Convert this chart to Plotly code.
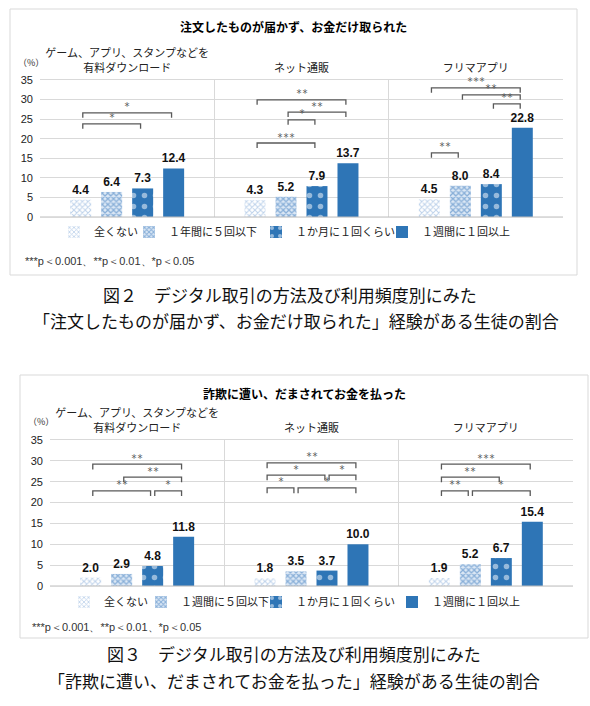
import plotly.graph_objects as go

# ---------------- data ----------------
categories = ["ゲーム、アプリ、スタンプなどを<br>有料ダウンロード", "ネット通販", "フリマアプリ"]

series_names_1 = ["全くない", "１年間に５回以下", "１か月に１回くらい", "１週間に１回以上"]
series_names_2 = ["全くない", "１週間に５回以下", "１か月に１回くらい", "１週間に１回以上"]

values_1_none = [4.4, 4.3, 4.5]
values_1_low = [6.4, 5.2, 8.0]
values_1_month = [7.3, 7.9, 8.4]
values_1_week = [12.4, 13.7, 22.8]

values_2_none = [2.0, 1.8, 1.9]
values_2_low = [2.9, 3.5, 5.2]
values_2_month = [4.8, 3.7, 6.7]
values_2_week = [11.8, 10.0, 15.4]

y_ticks = [0, 5, 10, 15, 20, 25, 30, 35]

# significance brackets: (category index, from series, to series, height in %, label)
brackets_1 = [
    (0, 0, 3, 26.6, "*"), (0, 0, 2, 23.8, "*"),
    (1, 0, 3, 29.9, "**"), (1, 1, 3, 26.8, "**"), (1, 1, 2, 24.8, "*"), (1, 0, 2, 18.9, "***"),
    (2, 0, 3, 33.0, "***"), (2, 1, 3, 31.2, "**"), (2, 2, 3, 28.9, "**"), (2, 0, 1, 16.4, "**"),
]
brackets_2 = [
    (0, 0, 3, 29.2, "**"), (0, 1, 3, 26.1, "**"), (0, 0, 2, 22.8, "**"), (0, 2, 3, 22.8, "*"),
    (1, 0, 3, 29.5, "**"), (1, 0, 2, 26.6, "*"), (1, 2, 3, 26.6, "*"), (1, 0, 1, 23.5, "*"), (1, 1, 3, 23.5, "*"),
    (2, 0, 3, 29.2, "***"), (2, 0, 2, 26.1, "**"), (2, 0, 1, 22.8, "**"), (2, 1, 3, 22.8, "*"),
]

title_1 = "注文したものが届かず、お金だけ取られた"
title_2 = "詐欺に遭い、だまされてお金を払った"
footnote = "***p＜0.001、**p＜0.01、*p＜0.05"
unit_label = "（%）"
caption_1 = ["図２　デジタル取引の方法及び利用頻度別にみた",
             "「注文したものが届かず、お金だけ取られた」経験がある生徒の割合"]
caption_2 = ["図３　デジタル取引の方法及び利用頻度別にみた",
             "「詐欺に遭い、だまされてお金を払った」経験がある生徒の割合"]

# ---------------- styling ----------------
W, H = 590, 706
BLUE = "#2E75B6"
GRID = "#D9D9D9"
BRACKET = "#595959"
JP = "Noto Sans CJK JP"
NUM = "Liberation Sans"
BARGAP = 0.289
BARGROUPGAP = 0.323
N_SERIES = 4

markers = [
    dict(color="white", line=dict(width=0),
         pattern=dict(shape="x", fgcolor="#7EA6D6", bgcolor="white", size=4, solidity=0.45)),
    dict(color="white", line=dict(width=0),
         pattern=dict(shape="x", fgcolor="#3576BC", bgcolor="#DCE8F5", size=4, solidity=0.55)),
    dict(color=BLUE, line=dict(width=0),
         pattern=dict(shape=".", fgcolor="white", bgcolor=BLUE, size=11, solidity=0.2)),
    dict(color=BLUE, line=dict(width=0)),
]

# legend text start (px) for each chart's four entries
legend_text_x_1 = [95, 170, 297, 423]
legend_text_x_2 = [105, 182, 297, 433]


def px(x):
    return x / W


def py(y):
    return 1 - y / H


fig = go.Figure()

charts = [
    dict(names=series_names_1,
         values=[values_1_none, values_1_low, values_1_month, values_1_week],
         xa="x", ya="y", brackets=brackets_1, legend_x=legend_text_x_1, legend_y=232),
    dict(names=series_names_2,
         values=[values_2_none, values_2_low, values_2_month, values_2_week],
         xa="x2", ya="y2", brackets=brackets_2, legend_x=legend_text_x_2, legend_y=602),
]

legend_layout = {}
legend_idx = 0
for ch in charts:
    for k, (name, vals) in enumerate(zip(ch["names"], ch["values"])):
        legend_idx += 1
        lname = "legend" if legend_idx == 1 else f"legend{legend_idx}"
        legend_layout[lname] = dict(
            orientation="h", x=px(ch["legend_x"][k] - 41), xanchor="left",
            y=py(ch["legend_y"]), yanchor="middle",
            font=dict(family=JP, size=11, color="#222222"),
            bgcolor="rgba(0,0,0,0)")
        fig.add_trace(go.Bar(
            x=categories, y=vals, name=name,
            xaxis=ch["xa"], yaxis=ch["ya"], legend=lname,
            marker=markers[k],
            texttemplate="%{y:.1f}", textposition="outside",
            constraintext="none", cliponaxis=False,
            textfont=dict(family=NUM, size=12, color="#111111", weight="bold"),
            hoverinfo="skip",
        ))

group_w = 1 - BARGAP


def bar_center(cat, k):
    return cat - group_w / 2 + (k + 0.5) * group_w / N_SERIES


shapes = []
annotations = []
for ch in charts:
    for cat, a, b, h, lab in ch["brackets"]:
        x0 = bar_center(cat, a) + 0.012
        x1 = bar_center(cat, b) - 0.012
        t = 1.25
        shapes.append(dict(type="path", xref=ch["xa"], yref=ch["ya"],
                           path=f"M {x0},{h - t} L {x0},{h} L {x1},{h} L {x1},{h - t}",
                           line=dict(color=BRACKET, width=1.3)))
        annotations.append(dict(x=(x0 + x1) / 2, y=h, xref=ch["xa"], yref=ch["ya"],
                                text=lab, showarrow=False, yanchor="middle", yshift=6,
                                font=dict(family="DejaVu Sans Mono", size=10, color=BRACKET)))
    shapes.append(dict(type="line", xref=ch["xa"] + " domain", yref=ch["ya"],
                       x0=0, x1=1, y0=0, y1=0, line=dict(color="#BFBFBF", width=1)))

# chart frames
shapes.append(dict(type="rect", xref="paper", yref="paper", x0=px(10), x1=px(577),
                   y0=py(275), y1=py(9), line=dict(color=GRID, width=1), layer="below"))
shapes.append(dict(type="rect", xref="paper", yref="paper", x0=px(20), x1=px(588),
                   y0=py(638), y1=py(375), line=dict(color=GRID, width=1), layer="below"))


def paper_text(x, y, text, size, xanchor="center", color="#222222", family=JP):
    annotations.append(dict(x=px(x), y=py(y), xref="paper", yref="paper", text=text,
                            showarrow=False, xanchor=xanchor, yanchor="middle",
                            font=dict(family=family, size=size, color=color)))


paper_text(293.5, 27, f"<b>{title_1}</b>", 12, color="#000000")
paper_text(304, 393, f"<b>{title_2}</b>", 12, color="#000000")
paper_text(31, 62, unit_label, 9, color="#333333")
paper_text(41, 421, unit_label, 9, color="#333333")
paper_text(23, 261, footnote, 11, xanchor="left", color="#333333", family=NUM)
paper_text(30, 627, footnote, 11, xanchor="left", color="#333333", family=NUM)
paper_text(290, 294, caption_1[0], 17, color="#111111")
paper_text(296, 320, caption_1[1], 17, color="#111111")
paper_text(294, 653, caption_2[0], 17, color="#111111")
paper_text(294, 680, caption_2[1], 17, color="#111111")


def xaxis(domain, anchor):
    return dict(domain=domain, anchor=anchor, side="top", type="category",
                tickson="boundaries", showgrid=True, gridcolor=GRID, gridwidth=1,
                ticks="", showline=True, mirror=True, linecolor=GRID,
                ticklabelstandoff=3, tickangle=0, automargin=False,
                tickfont=dict(family=JP, size=11, color="#222222"),
                range=[-0.5, 2.5], fixedrange=True)


def yaxis(domain, anchor):
    return dict(domain=domain, anchor=anchor, range=[0, 35], tickvals=y_ticks,
                showgrid=True, gridcolor=GRID, zeroline=False, ticks="",
                showline=False, ticklabelstandoff=6, automargin=False,
                tickfont=dict(family=NUM, size=11, color="#222222"), fixedrange=True)


fig.update_layout(
    width=W, height=H, margin=dict(l=0, r=0, t=0, b=0),
    paper_bgcolor="white", plot_bgcolor="white",
    barmode="group", bargap=BARGAP, bargroupgap=BARGROUPGAP,
    xaxis=xaxis([px(40), px(563)], "y"),
    yaxis=yaxis([py(217), py(80)], "x"),
    xaxis2=xaxis([px(50), px(573)], "y2"),
    yaxis2=yaxis([py(586), py(440)], "x2"),
    shapes=shapes, annotations=annotations,
    showlegend=True,
    **legend_layout,
)

fig.write_html("out.html")
